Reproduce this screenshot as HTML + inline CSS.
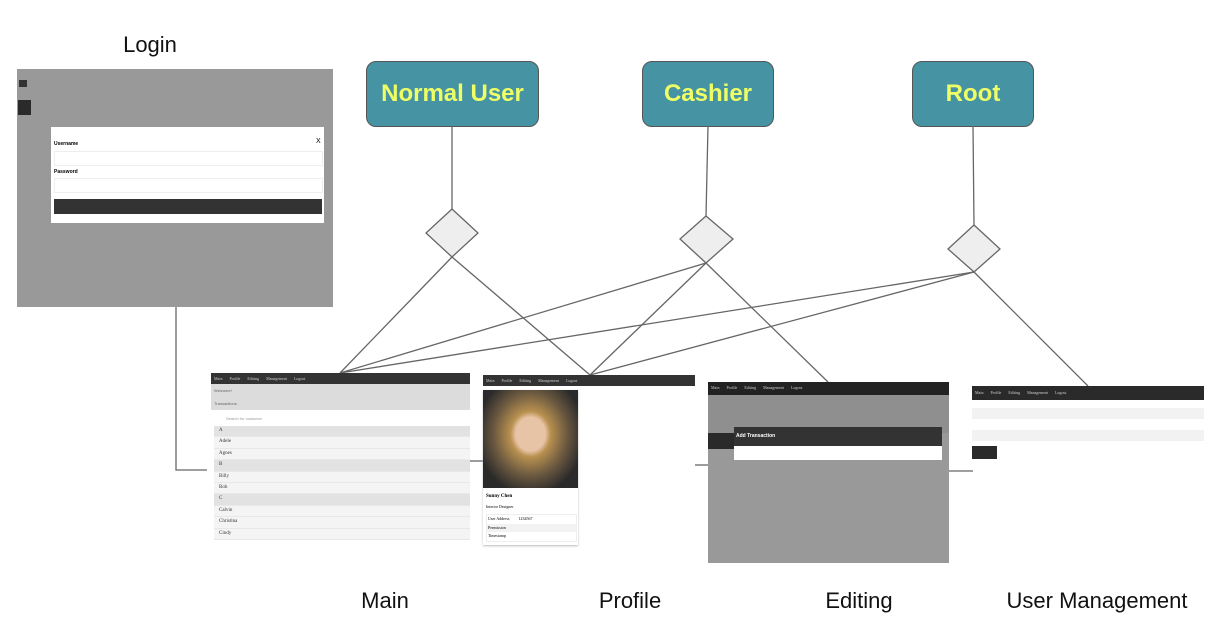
<!DOCTYPE html>
<html><head><meta charset="utf-8"><style>
body{margin:0;width:1206px;height:634px;background:#fff;position:relative;overflow:hidden;font-family:"Liberation Sans",sans-serif}
.a{position:absolute}
.role{position:absolute;background:#4593a3;border:1px solid #555;border-radius:10px;color:#eeff66;font-weight:bold;font-size:24px;display:flex;align-items:center;justify-content:center}
.lbl{position:absolute;font-size:22px;color:#111;transform:translateX(-50%);white-space:nowrap}
.nav{position:absolute;background:#333;color:#ccc;font-size:4px;font-family:"Liberation Serif",serif;line-height:11px;padding-left:3px;word-spacing:6px}
.row{height:10.4px;font-size:5px;font-family:"Liberation Serif",serif;line-height:10px;padding-left:5px;color:#333;border-bottom:1px solid #e8e8e8}
</style></head><body>
<div class="lbl" style="left:150px;top:32px">Login</div>
<div class="a" style="left:17px;top:69px;width:316px;height:238px;background:#999">
  <div class="a" style="left:2px;top:11px;width:8px;height:7px;background:#333"></div>
  <div class="a" style="left:1px;top:31px;width:13px;height:15px;background:#2a2a2a"></div>
  <div class="a" style="left:34px;top:58px;width:273px;height:96px;background:#fff">
    <div class="a" style="left:3px;top:14px;font-size:5px;font-weight:bold">Username</div>
    <div class="a" style="left:265px;top:11px;font-size:7px">X</div>
    <div class="a" style="left:3px;top:24px;width:267px;height:13px;border:1px solid #eee"></div>
    <div class="a" style="left:3px;top:42px;font-size:5px;font-weight:bold">Password</div>
    <div class="a" style="left:3px;top:51px;width:267px;height:13px;border:1px solid #eee"></div>
    <div class="a" style="left:3px;top:72px;width:268px;height:15px;background:#333"></div>
  </div>
</div>
<div class="role" style="left:366px;top:61px;width:171px;height:64px">Normal User</div>
<div class="role" style="left:642px;top:61px;width:130px;height:64px">Cashier</div>
<div class="role" style="left:912px;top:61px;width:120px;height:64px">Root</div>
<svg class="a" style="left:0;top:0" width="1206" height="634">
<g stroke="#666" stroke-width="1.3" fill="none">
<line x1="452" y1="126" x2="452" y2="209"/>
<line x1="708" y1="126" x2="706" y2="216"/>
<line x1="973" y1="126" x2="974" y2="225"/>
<line x1="452" y1="257" x2="340" y2="373"/>
<line x1="452" y1="257" x2="590" y2="375"/>
<line x1="706" y1="263" x2="340" y2="373"/>
<line x1="706" y1="263" x2="590" y2="375"/>
<line x1="706" y1="263" x2="828" y2="382"/>
<line x1="974" y1="272" x2="340" y2="373"/>
<line x1="974" y1="272" x2="590" y2="375"/>
<line x1="974" y1="272" x2="1088" y2="386"/>
<polyline points="176,307 176,470 207,470"/>
<line x1="470" y1="461" x2="484" y2="461"/>
<line x1="695" y1="465" x2="708" y2="465"/>
<line x1="949" y1="471" x2="973" y2="471"/>
</g>
<g fill="#eee" stroke="#666" stroke-width="1.3">
<polygon points="452,209 478,233 452,257 426,233"/>
<polygon points="706,216 733,239 706,263 680,239"/>
<polygon points="974,225 1000,249 974,272 948,249"/>
</g>
</svg>
<!-- Main -->
<div class="a" style="left:211px;top:373px;width:259px;height:167px">
  <div class="nav" style="left:0;top:0;width:256px;height:11px">Main Profile Editing Management Logout</div>
  <div class="a" style="left:0;top:11px;width:259px;height:26px;background:#dcdcdc;font-size:4px;color:#666;line-height:13px;padding-left:3px;box-sizing:border-box">Welcome!<br>Transactions</div>
  <div class="a" style="left:3px;top:40px;width:256px;height:11px;font-size:4px;color:#999;line-height:11px;padding-left:12px;box-sizing:border-box">Search for customer</div>
  <div class="a" style="left:3px;top:53px;width:256px;background:#f4f4f4">
    <div class="row" style="background:#e2e2e2">A</div><div class="row">Adele</div><div class="row">Agnes</div>
    <div class="row" style="background:#e2e2e2">B</div><div class="row">Billy</div><div class="row">Bob</div>
    <div class="row" style="background:#e2e2e2">C</div><div class="row">Calvin</div><div class="row">Christina</div><div class="row">Cindy</div>
  </div>
</div>
<!-- Profile -->
<div class="nav" style="left:483px;top:375px;width:209px;height:11px">Main Profile Editing Management Logout</div>
<div class="a" style="left:483px;top:390px;width:95px;height:155px;background:#fff;box-shadow:0 1px 2px #bbb">
  <div class="a" style="left:0;top:0;width:95px;height:98px;background:radial-gradient(ellipse at 50% 45%,#e8c4a6 0 22%,#b8904f 30%,#6a5840 55%,#2a2a2a 80%)"></div>
  <div class="a" style="left:3px;top:104px;font-size:5px;font-weight:bold;font-family:'Liberation Serif',serif">Sunny Chen</div>
  <div class="a" style="left:3px;top:114px;font-size:4px;font-family:'Liberation Serif',serif">Interior Designer</div>
  <div class="a" style="left:3px;top:124px;width:89px;height:26px;border:1px solid #eee;font-size:4px;font-family:'Liberation Serif',serif;line-height:8.5px">
    <div>&nbsp;User Address &nbsp;&nbsp;&nbsp;&nbsp;&nbsp;&nbsp;&nbsp;&nbsp;1234567</div><div style="background:#f2f2f2">&nbsp;Permission</div><div>&nbsp;Timestamp</div></div>
</div>
<!-- Editing -->
<div class="a" style="left:708px;top:382px;width:241px;height:181px;background:#999">
  <div class="nav" style="left:0;top:0;width:238px;height:13px;background:#222">Main Profile Editing Management Logout</div>
  <div class="a" style="left:0;top:13px;width:241px;height:38px;background:#8f8f8f"></div>
  <div class="a" style="left:0;top:51px;width:26px;height:16px;background:#2a2a2a"></div>
  <div class="a" style="left:26px;top:45px;width:208px;height:33px;background:#fff">
    <div class="a" style="left:0;top:0;width:208px;height:19px;background:#333;color:#fff;font-size:5px;font-weight:bold;line-height:19px;padding-left:2px;box-sizing:border-box">Add Transaction</div>
  </div>
</div>
<!-- User management -->
<div class="a" style="left:972px;top:386px;width:232px;height:57px">
  <div class="nav" style="left:0;top:0;width:229px;height:14px;line-height:14px;background:#2a2a2a">Main Profile Editing Management Logout</div>
  <div class="a" style="left:0;top:22px;width:232px;height:11px;background:#f2f2f2"></div>
  <div class="a" style="left:0;top:44px;width:232px;height:11px;background:#f2f2f2"></div>
</div>
<div class="a" style="left:972px;top:446px;width:25px;height:13px;background:#2a2a2a"></div>
<div class="lbl" style="left:385px;top:588px">Main</div>
<div class="lbl" style="left:630px;top:588px">Profile</div>
<div class="lbl" style="left:859px;top:588px">Editing</div>
<div class="lbl" style="left:1097px;top:588px">User Management</div>
</body></html>
